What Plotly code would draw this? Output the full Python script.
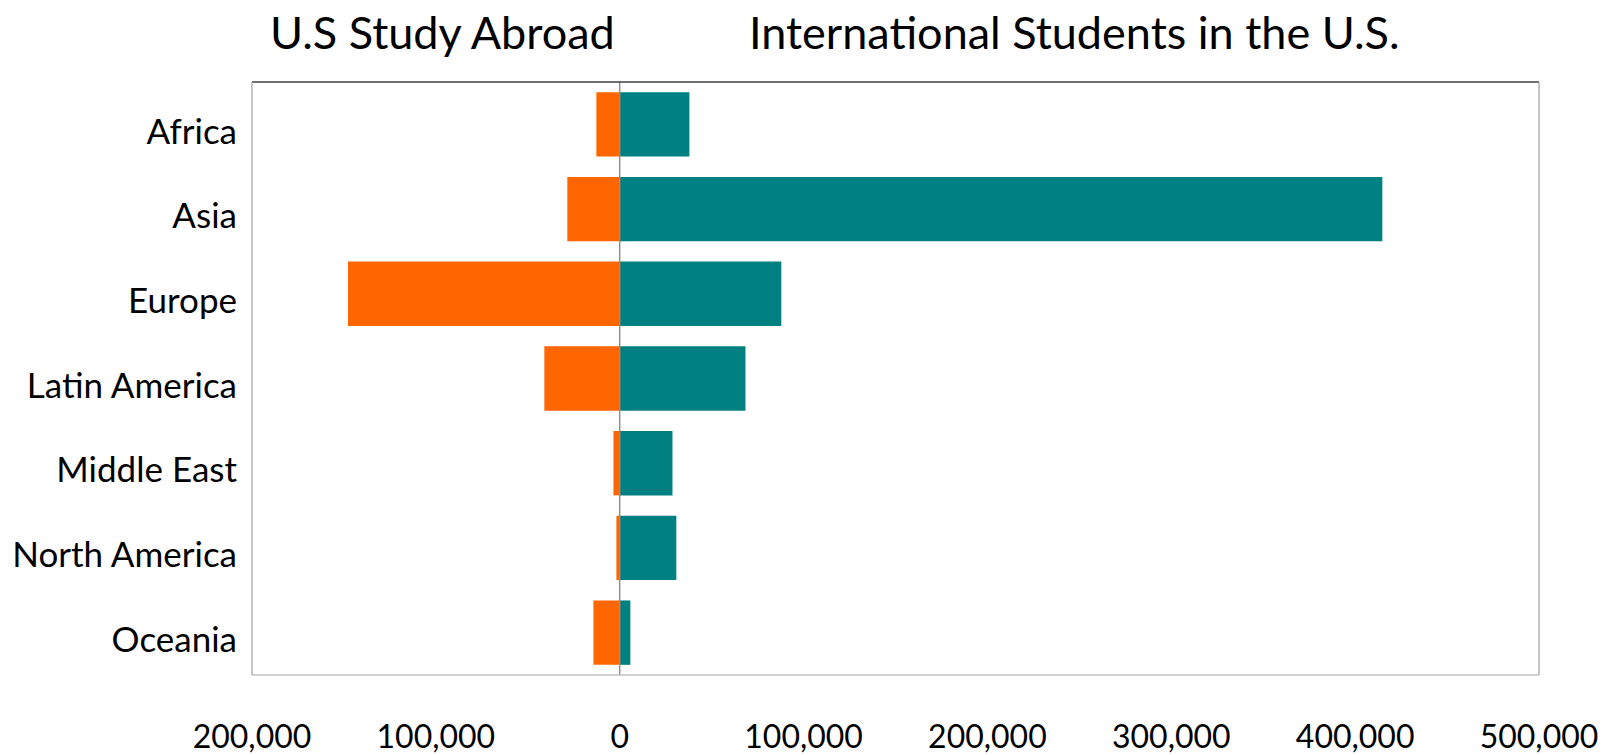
import plotly.graph_objects as go

regions = ['Africa', 'Asia', 'Europe', 'Latin America', 'Middle East', 'North America', 'Oceania']
us_study_abroad = [12700, 28500, 147800, 41000, 3400, 1800, 14300]
intl_students = [37900, 414800, 87900, 68400, 28700, 30800, 5800]

tick_vals = [-200000, -100000, 0, 100000, 200000, 300000, 400000, 500000]
tick_text = ['200,000', '100,000', '0', '100,000', '200,000', '300,000', '400,000', '500,000']

font_family = 'Lato, Noto Sans, sans-serif'

fig = go.Figure()
fig.add_trace(go.Bar(
    y=regions,
    x=[-v for v in us_study_abroad],
    name='U.S Study Abroad',
    orientation='h',
    marker=dict(color='#FF6600', line=dict(width=0)),
))
fig.add_trace(go.Bar(
    y=regions,
    x=intl_students,
    name='International Students in the U.S.',
    orientation='h',
    marker=dict(color='#008080', line=dict(width=0)),
))

# zero line on top of the bars
fig.add_shape(type='line', xref='x', yref='paper', x0=0, x1=0, y0=0, y1=1,
              line=dict(color='#909090', width=1.5), layer='above')
# frame
fig.add_shape(type='line', xref='paper', yref='paper', x0=0, x1=1, y0=1, y1=1,
              line=dict(color='#404040', width=1.5))
fig.add_shape(type='line', xref='paper', yref='paper', x0=0, x1=1, y0=0, y1=0,
              line=dict(color='#c0c0c0', width=1.5))
fig.add_shape(type='line', xref='paper', yref='paper', x0=0, x1=0, y0=0, y1=1,
              line=dict(color='#a0a0a0', width=1.2))
fig.add_shape(type='line', xref='paper', yref='paper', x0=1, x1=1, y0=0, y1=1,
              line=dict(color='#a0a0a0', width=1.2))

fig.add_annotation(text='U.S Study Abroad', xref='paper', yref='paper',
                   x=(442 - 252) / 1287, y=1, yshift=50, showarrow=False,
                   xanchor='center', yanchor='middle',
                   font=dict(family=font_family, size=45, color='black'))
fig.add_annotation(text='International Students in the U.S.', xref='paper', yref='paper',
                   x=(1074 - 252) / 1287, y=1, yshift=50, showarrow=False,
                   xanchor='center', yanchor='middle',
                   font=dict(family=font_family, size=45, color='black'))

fig.update_layout(
    barmode='relative',
    bargap=0.24,
    width=1612,
    height=755,
    margin=dict(l=252, r=73, t=82, b=80),
    paper_bgcolor='white',
    plot_bgcolor='white',
    showlegend=False,
    font=dict(family=font_family, color='black'),
    xaxis=dict(
        range=[-200000, 500000],
        tickvals=tick_vals,
        ticktext=tick_text,
        tickfont=dict(size=32),
        showgrid=False,
        zeroline=False,
        showline=False,
        ticks='outside',
        ticklen=34,
        tickcolor='rgba(0,0,0,0)',
        automargin=False,
    ),
    yaxis=dict(
        autorange='reversed',
        tickfont=dict(size=35),
        showgrid=False,
        zeroline=False,
        showline=False,
        ticks='outside',
        ticklen=7,
        tickcolor='rgba(0,0,0,0)',
        ticklabelshift=-7,
        automargin=False,
    ),
)

# drop the default body margin so the fixed-size figure sits flush in the window
fig.write_html('out.html', config={'displayModeBar': False},
               post_script="document.body.style.margin='0';")
